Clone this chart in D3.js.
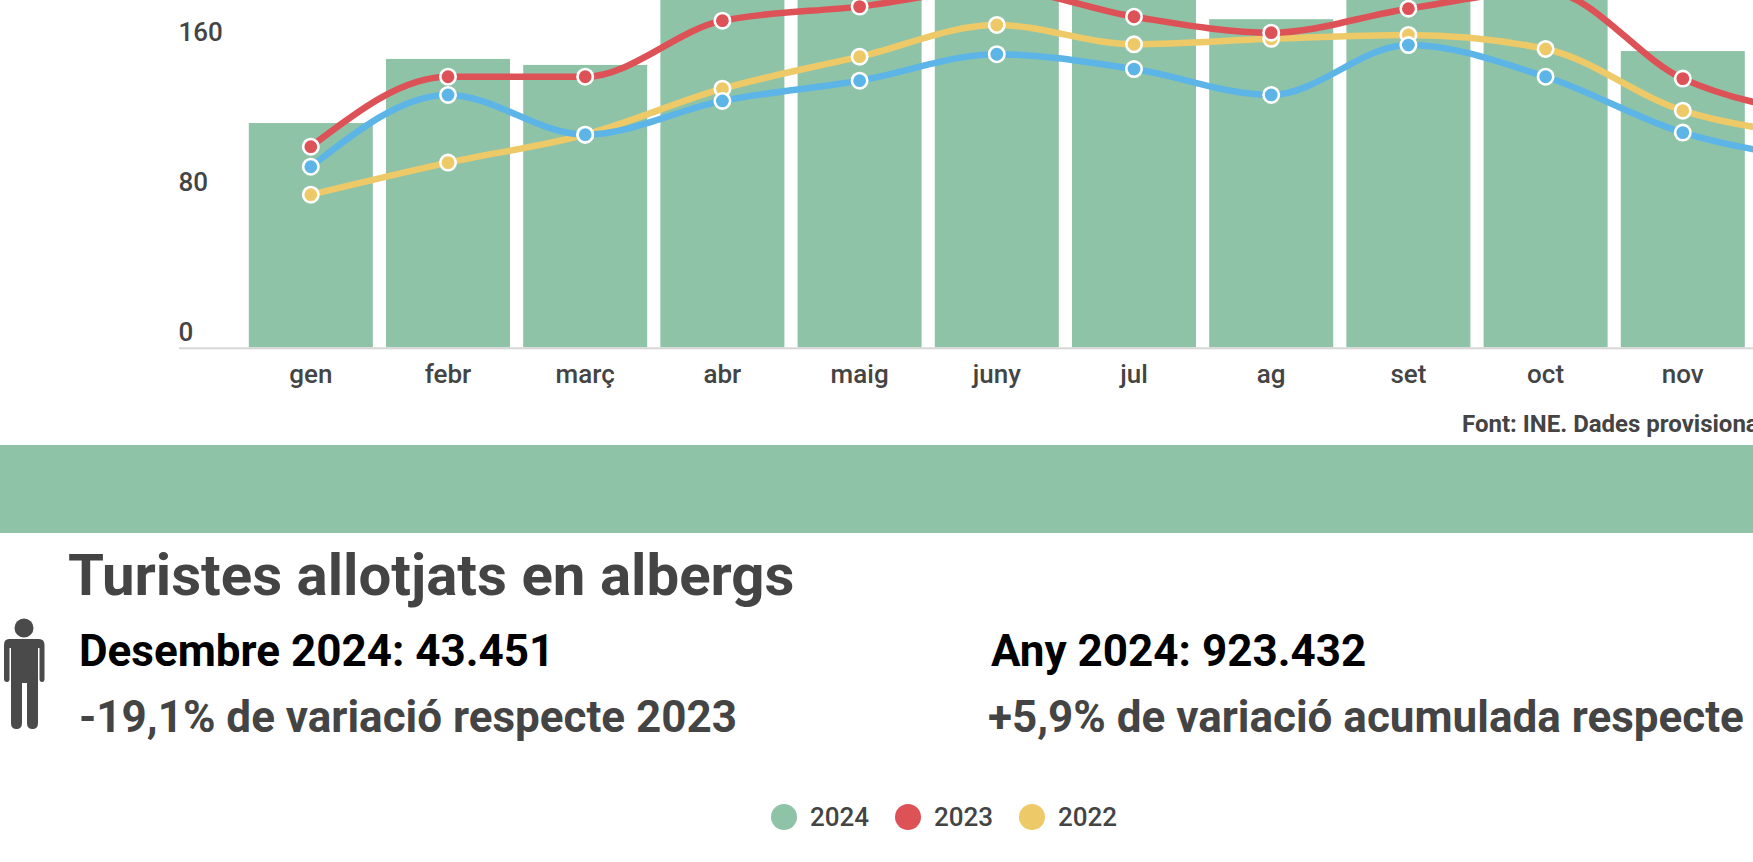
<!DOCTYPE html>
<html><head><meta charset="utf-8">
<script src="https://cdn.jsdelivr.net/npm/d3@7"></script>
<style>
html,body{margin:0;padding:0;background:#fff;overflow:hidden}
svg{display:block;font-family:Roboto,sans-serif}
</style></head><body>
<svg id="c" width="1753" height="862"></svg>
<script>
const months=["gen","febr","març","abr","maig","juny","jul","ag","set","oct","nov","des"];
const values2024=[119.6,153.8,150.6,200,210,215,200,175,205,205,158,120];
const values2023=[107,144.3,144.3,174.2,181.7,191,176.3,167.8,180.6,190,143.3,124];
const values2022=[81.4,98.5,113.4,137.9,155,171.9,161.6,164.5,166.6,159.1,126.2,113];
const values2021=[96.3,134.6,113.4,131.4,142.2,156.3,148.4,134.6,161.2,144.3,114.5,100];
const yTicks=[0,80,160,240];
const legendItems=["2024","2023","2022"];
const GREEN="#8fc3a8",RED="#dd5257",YELLOW="#eec968",BLUE="#5cb5e6",INK="#444444";

const svg=d3.select("#c");
const x=d3.scaleBand().domain(months).range([242.2,242.2+12*137.2]).paddingInner(0.0962).paddingOuter(0.0481);
const y=d3.scaleLinear().domain([0,80]).range([347.3,197.3]);
const cx=m=>x(m)+x.bandwidth()/2;

svg.selectAll("rect.bar").data(months).join("rect").attr("class","bar")
  .attr("x",m=>x(m)).attr("width",x.bandwidth())
  .attr("y",(m,i)=>y(values2024[i])).attr("height",(m,i)=>y(0)-y(values2024[i])).attr("fill",GREEN);

// axis baseline
svg.append("rect").attr("x",179).attr("y",347.3).attr("width",1574).attr("height",2).attr("fill","#d6d6d6");

const yAxis=svg.append("g").attr("transform","translate(178.5,0)").call(d3.axisLeft(y).tickValues(yTicks).tickSize(0));
yAxis.select(".domain").remove();
yAxis.selectAll("text").attr("x",0).attr("dy",0).attr("y",-7).attr("text-anchor","start")
  .attr("font-family","Roboto").attr("font-size",26).attr("font-weight",500).attr("fill",INK);

const xAxis=svg.append("g").attr("transform","translate(0,347.3)").call(d3.axisBottom(x).tickSize(0));
xAxis.select(".domain").remove();
xAxis.selectAll("text").attr("y",35.8).attr("dy",0)
  .attr("font-family","Roboto").attr("font-size",26).attr("font-weight",500).attr("fill",INK);

const line=d3.line().x((d,i)=>cx(months[i])).y(d=>y(d)).curve(d3.curveMonotoneX);
const series=[[values2022,YELLOW],[values2023,RED],[values2021,BLUE]];
series.forEach(([v,c])=>{
  svg.append("path").attr("d",line(v)).attr("fill","none").attr("stroke",c).attr("stroke-width",6.5);
});
series.forEach(([v,c])=>{
  svg.selectAll(null).data(v).join("circle")
    .attr("cx",(d,i)=>cx(months[i])).attr("cy",d=>y(d)).attr("r",7.7)
    .attr("fill",c).attr("stroke","#fff").attr("stroke-width",2.6);
});

svg.append("text").attr("x",1462).attr("y",432).attr("font-size",24).attr("font-weight",700).attr("fill",INK).text("Font: INE. Dades provisionals");

svg.append("rect").attr("x",0).attr("y",445).attr("width",1753).attr("height",88).attr("fill",GREEN);

const txt=(s,xx,yy,size,weight,fill)=>svg.append("text").attr("x",xx).attr("y",yy).attr("font-size",size).attr("font-weight",weight).attr("fill",fill).text(s);
txt("Turistes allotjats en albergs",68,595,58.2,700,INK);
txt("Desembre 2024: 43.451",79,665.5,44,700,"#000");
txt("-19,1% de variació respecte 2023",79,731.5,44,700,INK);
txt("Any 2024: 923.432",991,666,44,700,"#000");
txt("+5,9% de variació acumulada respecte 2023",988,731.5,44,700,INK);

// person icon
const p=svg.append("g").attr("fill","#4a4a4a");
p.append("circle").attr("cx",24).attr("cy",628).attr("r",9.5);
p.append("path").attr("d","M9,639 H39 Q44.5,639 44.5,645 V679 Q44.5,682 42,682 Q39.5,682 39.5,679 V648 H38 V723 Q38,729 32.5,729 Q27,729 27,723 V683 H24.5 H22 V723 Q22,729 16.5,729 Q11,729 11,723 V648 H9.5 V679 Q9.5,682 7,682 Q4,682 4,679 V645 Q4,639 9,639 Z");

const legendColors=[GREEN,RED,YELLOW];
const lx=d3.scalePoint().domain(legendItems).range([784,1032]);
const lg=svg.selectAll("g.lg").data(legendItems).join("g").attr("class","lg").attr("transform",d=>`translate(${lx(d)},817)`);
lg.append("circle").attr("r",13).attr("fill",(d,i)=>legendColors[i]);
lg.append("text").attr("x",26).attr("y",9).attr("font-size",26).attr("font-weight",500).attr("fill",INK).text(d=>d);
</script>
</body></html>
